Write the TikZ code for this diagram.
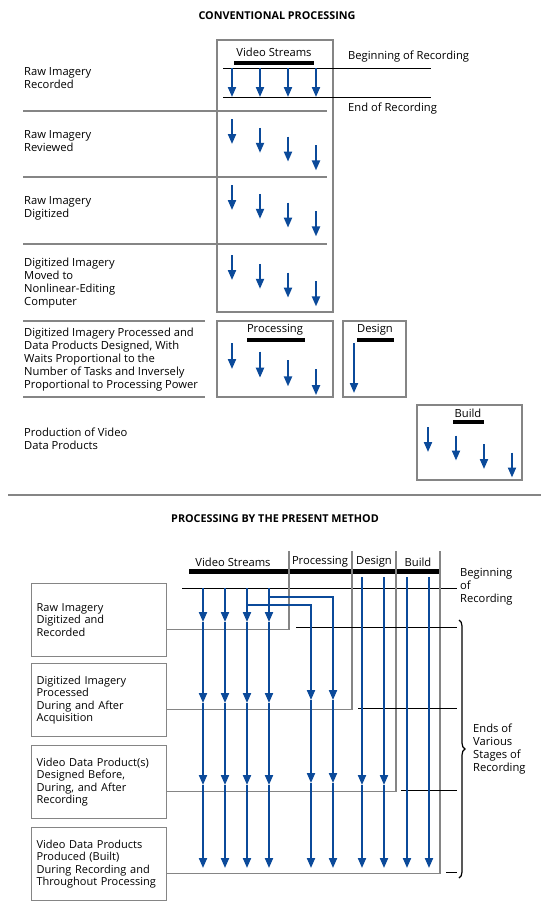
\documentclass[tikz,border=0pt]{standalone}
\usepackage{fontspec}
\setmainfont{Open Sans}
\usetikzlibrary{arrows.meta,decorations.pathreplacing}
\definecolor{streamblue}{HTML}{0B4A9A}
\definecolor{rulegray}{HTML}{858585}

\begin{document}
\begin{tikzpicture}[
    x=1pt, y=-1pt,
    every node/.style={inner sep=0pt},
    title/.style={font=\bfseries\fontsize{10.8}{13}\selectfont},
    caption/.style={font=\fontsize{11.2}{13}\selectfont, align=left, anchor=west},
    head/.style={font=\fontsize{11.2}{13}\selectfont},
    panel/.style={draw=rulegray, line width=1.2pt},
    divider/.style={rulegray, line width=1.2pt},
    endline/.style={black, line width=0.9pt},
    bar/.style={black, line width=4pt},
    flow/.style={streamblue, line width=2pt, -{Triangle[width=8pt,length=10pt]}},
    stagebox/.style={
        draw=rulegray,
        line width=1.2pt,
        anchor=north west,
        minimum width=135pt,
        minimum height=73pt,
        text width=125pt,
        inner xsep=5pt,
        font=\fontsize{11}{12.6}\selectfont,
        align=left,
    },
    ]
    \useasboundingbox (0,0) rectangle (553,918);

    \node[title] (convtitle) at (277,16) {CONVENTIONAL PROCESSING};

    \draw[panel] (217,40) rectangle (333,312);
    \node[head] (vshead) at (274,52) {Video Streams};
    \draw[bar] (234,62.5) -- (314,62.5);
    \draw[endline] (223,68) -- (431,68);
    \draw[endline] (223,97) -- (431,97);
    \node[caption] (begintop) at (348,57) {Beginning of Recording};
    \node[caption] (endtop) at (348,109) {End of Recording};
    \foreach \y in {111,177,244} \draw[divider] (23,\y) -- (327,\y);
    \draw[divider] (23,321) -- (205,321);
    \draw[divider] (23,397) -- (205,397);

    \node[caption] (rawrec) at (24,78.5) {Raw Imagery\\Recorded};
    \node[caption] (rawrev) at (24,141.5) {Raw Imagery\\Reviewed};
    \node[caption] (rawdig) at (24,208.5) {Raw Imagery\\Digitized};
    \node[caption] (digmove) at (24,283) {Digitized Imagery\\Moved to\\Nonlinear-Editing\\Computer};
    \node[caption] (digproc) at (24,360) {Digitized Imagery Processed and\\Data Products Designed, With\\Waits Proportional to the\\Number of Tasks and Inversely\\Proportional to Processing Power};
    \node[caption] (prodvid) at (24,439) {Production of Video\\Data Products};

    \foreach \x in {232,260,288,316} \draw[flow] (\x,68) -- (\x,97);
    \foreach \y in {119,185,255}
        \foreach \x [count=\i from 0] in {232,260,288,316}
            \draw[flow] (\x,\y+8.8*\i) -- ++(0,25);

    \draw[panel] (217,321) rectangle (333,397);
    \node[head] (prochead) at (275,330) {Processing};
    \draw[bar] (247,340) -- (305,340);
    \foreach \x [count=\i from 0] in {232,260,288,316}
        \draw[flow] (\x,343+8.7*\i) -- ++(0,26);

    \draw[panel] (343,321) rectangle (406,397);
    \node[head] (deshead) at (375,330) {Design};
    \draw[bar] (357,340) -- (394,340);
    \draw[flow] (354,343) -- (354,393);

    \draw[panel] (417,405) rectangle (522,480);
    \node[head] (buildhead) at (468,413) {Build};
    \draw[bar] (453,421.5) -- (484,421.5);
    \foreach \x [count=\i from 0] in {428,456,484,512}
        \draw[flow] (\x,427+8.5*\i) -- ++(0,25);

    \draw[divider] (8,495) -- (541,495);

    \node[title] (presenttitle) at (275,519) {PROCESSING BY THE PRESENT METHOD};

    \node[head] (vsbot) at (233,562) {Video Streams};
    \node[head] (procbot) at (320,562) {Processing};
    \node[head] (desbot) at (374,562) {Design};
    \node[head] (buildbot) at (418,562) {Build};
    \draw[bar, line width=5pt] (189,571.5) -- (441,571.5);
    \draw[endline] (182,588) -- (457,588);
    \node[caption] (beginbot) at (460,587) {Beginning\\of\\Recording};

    \node[stagebox] (stage1) at (31,583) {Raw Imagery\\Digitized and\\Recorded};
    \node[stagebox] (stage2) at (31,663) {Digitized Imagery\\Processed\\During and After\\Acquisition};
    \node[stagebox] (stage3) at (31,745) {Video Data Product(s)\\Designed Before,\\During, and After\\Recording};
    \node[stagebox] (stage4) at (31,827) {Video Data Products\\Produced (Built)\\During Recording and\\Throughout Processing};

    \draw[divider] ([yshift=28pt]stage1.south east) -| (289,551);
    \draw[divider] ([yshift=28pt]stage2.south east) -| (352,551);
    \draw[divider] ([yshift=28pt]stage3.south east) -| (396,551);
    \draw[divider] ([yshift=28pt]stage4.south east) -| (440,551);
    \draw[endline] (296,627) -- (457,627);
    \draw[endline] (358,708) -- (457,708);
    \draw[endline] (401,790) -- (457,790);
    \draw[endline] (446,872) -- (457,872);

    \foreach \x in {203,225,247,269} {
        \draw[flow] (\x,588) -- (\x,622);
        \draw[flow] (\x,622) -- (\x,703);
        \draw[flow] (\x,703) -- (\x,785);
        \draw[flow] (\x,785) -- (\x,868);
    }
    \draw[flow] (269,597) -| (333,700);
    \draw[flow] (247,605) -| (311,700);
    \foreach \x in {311,333} {
        \draw[flow] (\x,700) -- (\x,783);
        \draw[flow] (\x,783) -- (\x,868);
    }
    \foreach \x in {362,384} {
        \draw[flow] (\x,577) -- (\x,785);
        \draw[flow] (\x,785) -- (\x,868);
    }
    \foreach \x in {407,429} \draw[flow] (\x,577) -- (\x,868);

    \draw[black, line width=1.2pt, decorate, decoration={brace, amplitude=6pt}] (459,620) -- (459,878);
    \node[caption] (endsnote) at (473,749) {Ends of\\Various\\Stages of\\Recording};
\end{tikzpicture}
\end{document}
